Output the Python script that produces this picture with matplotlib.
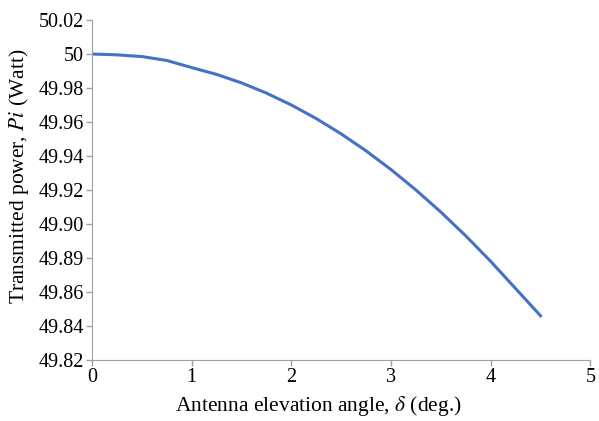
import matplotlib.pyplot as plt

angle = [0, 0.25, 0.5, 0.75, 1, 1.25, 1.5, 1.75, 2, 2.25, 2.5, 2.75, 3, 3.25, 3.5, 3.75, 4, 4.25, 4.5]
power = [50.000, 49.9995, 49.9985, 49.9962, 49.992, 49.988, 49.983, 49.977, 49.970, 49.962,
         49.953, 49.943, 49.932, 49.920, 49.907, 49.893, 49.878, 49.862, 49.846]

yticks = [49.82, 49.84, 49.86, 49.88, 49.90, 49.92, 49.94, 49.96, 49.98, 50.00, 50.02]
ytick_labels = ["49.82", "49.84", "49.86", "49.89", "49.90", "49.92", "49.94", "49.96", "49.98", "50", "50.02"]
xticks = [0, 1, 2, 3, 4, 5]

plt.rcParams['font.family'] = ['Liberation Serif', 'DejaVu Serif']
plt.rcParams['mathtext.fontset'] = 'stix'

fig = plt.figure(figsize=(5.99, 4.21), dpi=100)
ax = fig.add_axes([0.1536, 0.145, 0.832, 0.8075])
ax.plot(angle, power, color='#4472C4', lw=2.2)

ax.set_xlim(0, 5)
ax.set_ylim(49.82, 50.02)
ax.set_xticks(xticks)
ax.set_yticks(yticks)
ax.set_yticklabels(ytick_labels)
ax.tick_params(labelsize=14.5, color='#A0A0A0', length=4, width=1, pad=2)

for s in ['top', 'right']:
    ax.spines[s].set_visible(False)
for s in ['left', 'bottom']:
    ax.spines[s].set_color('#A0A0A0')

ax.set_xlabel(r'Antenna elevation angle, $\delta$ (deg.)', fontsize=15.5)
ax.set_ylabel(r'Transmitted power, $Pi$ (Watt)', fontsize=15.5)
ax.xaxis.set_label_coords(0.455, -0.10)
ax.yaxis.set_label_coords(-0.122, 0.54)

fig.savefig('out.png', dpi=100)
